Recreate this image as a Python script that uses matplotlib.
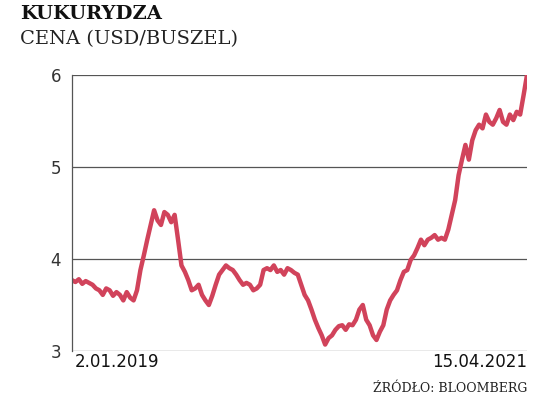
import matplotlib
matplotlib.use("Agg")
import matplotlib.pyplot as plt
import numpy as np

start_label = "2.01.2019"
end_label = "15.04.2021"
yticks = [3, 4, 5, 6]
ypix = [280,282,279,284,281,283,285,288,290,295,288,290,296,292,295,300,292,298,300,290,270,255,240,225,210,220,225,212,215,222,215,240,265,272,280,290,288,285,295,300,305,296,285,275,270,265,268,270,275,280,285,283,285,290,288,285,270,268,270,265,272,270,275,268,270,273,275,285,295,300,310,320,328,335,345,338,335,330,326,325,330,324,325,320,310,305,320,325,335,340,332,325,310,300,295,290,280,272,270,260,255,248,240,245,240,238,235,240,238,240,230,215,200,175,160,145,160,140,130,125,128,115,122,125,118,110,122,125,115,120,112,115,95,75]
prices = [round(6 - (p - 75) / 92, 2) for p in ypix]

fig = plt.figure(figsize=(5.36, 4.04), dpi=100)
ax = fig.add_axes([72/536, 1-351/404, 455/536, 276/404])
x = np.arange(len(prices))
ax.plot(x, prices, color="#d1435b", lw=3.2, solid_joinstyle="round")
ax.set_xlim(0, len(prices)-1)
ax.set_ylim(3, 6)
ax.set_yticks(yticks)
ax.set_yticklabels([str(t) for t in yticks], fontsize=12, color="#333", family="DejaVu Sans")
ax.tick_params(axis="y", length=0, pad=8)
ax.set_xticks([])
ax.grid(axis="y", color="#555", lw=0.9)
for s in ["top", "right", "bottom"]:
    ax.spines[s].set_visible(False)
ax.spines["left"].set_color("#555")
ax.spines["left"].set_linewidth(0.9)
ax.set_axisbelow(True)

fig.text(75/536, 1-362/404, start_label, fontsize=12, va="center", ha="left", color="#111")
fig.text(527/536, 1-362/404, end_label, fontsize=12, va="center", ha="right", color="#111")
fig.text(20/536, 1-14/404, "KUKURYDZA", fontsize=14, fontweight="bold", family="DejaVu Serif", va="center", color="#111")
fig.text(20/536, 1-39/404, "CENA (USD/BUSZEL)", fontsize=14, family="DejaVu Serif", va="center", color="#222")
fig.text(527/536, 1-389/404, "ŹRÓDŁO: BLOOMBERG", fontsize=9, family="DejaVu Serif", va="center", ha="right", color="#222")
fig.savefig("out.png", dpi=100, facecolor="white")
